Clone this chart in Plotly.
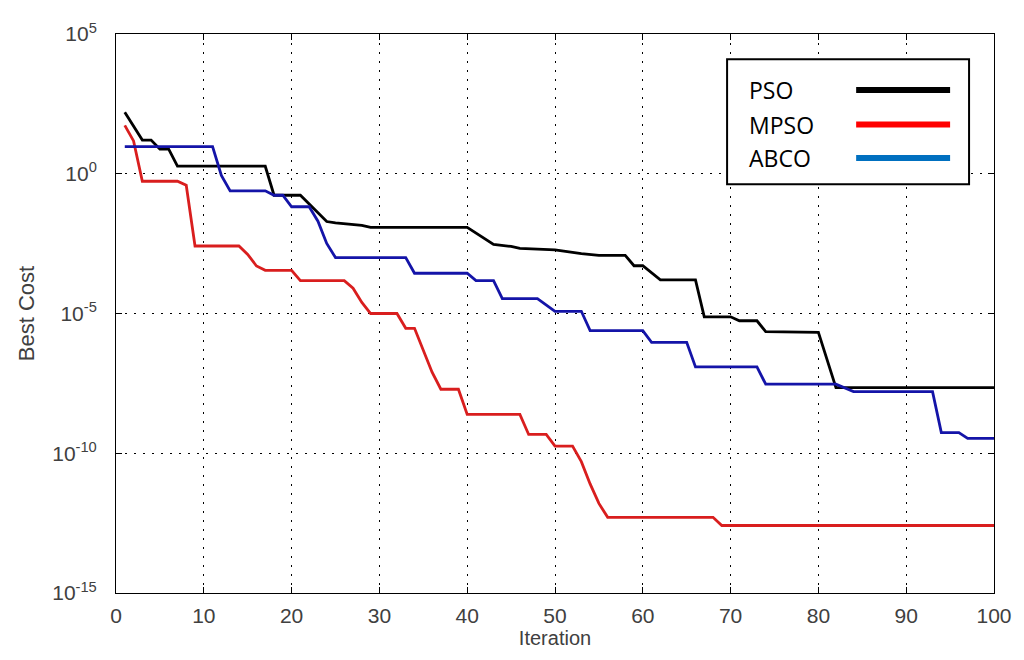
import plotly.graph_objects as go

# PSO (black)
pso_x = [1, 3, 4, 5, 6, 7, 17, 18, 21, 24, 25, 28, 29, 40, 43, 45, 46, 50, 53, 55, 58, 59, 60, 62, 66, 67, 70, 71, 73, 74, 80, 82, 100]
pso_y = [1.6e2, 16, 16, 7.6, 7.6, 1.86, 1.86, 0.17, 0.17, 1.95e-2, 1.74e-2, 1.41e-2, 1.2e-2, 1.2e-2, 2.95e-3,
         2.5e-3, 2.14e-3, 1.9e-3, 1.38e-3, 1.2e-3, 1.2e-3, 5.1e-4, 5.1e-4, 1.6e-4, 1.6e-4, 7.6e-6, 7.6e-6,
         5.5e-6, 5.5e-6, 2.24e-6, 2.1e-6, 2.24e-8, 2.24e-8]

# MPSO (red)
mpso_x = [1, 2, 3, 7, 8, 9, 14, 15, 16, 17, 20, 21, 26, 27, 28, 29, 32, 33, 34, 35, 36, 37, 39, 40, 46, 47,
          49, 50, 52, 53, 54, 55, 56, 68, 69, 100]
mpso_y = [54, 15, 0.54, 0.54, 0.39, 2.6e-3, 2.6e-3, 1.3e-3, 5e-4, 3.5e-4, 3.5e-4, 1.5e-4, 1.5e-4, 8e-5, 2.5e-5,
          1e-5, 1e-5, 2.95e-6, 2.95e-6, 5e-7, 7.9e-8, 1.95e-8, 1.95e-8, 2.45e-9, 2.45e-9, 4.7e-10, 4.7e-10,
          1.8e-10, 1.8e-10, 5e-11, 8e-12, 1.6e-12, 5.1e-13, 5.1e-13, 2.6e-13, 2.6e-13]

# ABCO (blue)
abco_x = [1, 11, 12, 13, 17, 18, 19, 20, 22, 23, 24, 25, 33, 34, 40, 41, 43, 44, 48, 49, 50, 53, 54, 60, 61,
          65, 66, 73, 74, 82, 84, 93, 94, 96, 97, 100]
abco_y = [9.3, 9.3, 0.87, 0.245, 0.245, 0.17, 0.17, 0.066, 0.066, 0.02, 3.2e-3, 1e-3, 1e-3, 2.75e-4, 2.75e-4,
          1.5e-4, 1.5e-4, 3.4e-5, 3.4e-5, 2e-5, 1.2e-5, 1.2e-5, 2.45e-6, 2.45e-6, 9.3e-7, 9.3e-7, 1.23e-7,
          1.23e-7, 2.95e-8, 2.95e-8, 1.6e-8, 1.6e-8, 5.5e-10, 5.5e-10, 3.4e-10, 3.4e-10]

series_names = ["PSO", "MPSO", "ABCO"]
line_colors = ["#000000", "#d91e1e", "#1414a8"]
legend_colors = ["#000000", "#ff0000", "#0070c0"]

x_ticks = list(range(0, 101, 10))
y_tickvals = [1e5, 1e0, 1e-5, 1e-10, 1e-15]
y_ticktext = ["10<sup>5</sup>", "10<sup>0</sup>", "10<sup>-5</sup>", "10<sup>-10</sup>", "10<sup>-15</sup>"]

fig = go.Figure()
for xs, ys, name, col in [(pso_x, pso_y, series_names[0], line_colors[0]),
                          (mpso_x, mpso_y, series_names[1], line_colors[1]),
                          (abco_x, abco_y, series_names[2], line_colors[2])]:
    fig.add_trace(go.Scatter(x=xs, y=ys, mode="lines", name=name,
                             line=dict(color=col, width=2.8), showlegend=False))

tick_font = dict(family="Liberation Sans, Arial, sans-serif", size=21, color="#404040")
xtitle_font = dict(family="Liberation Sans, Arial, sans-serif", size=20, color="#404040")
ytitle_font = dict(family="Liberation Sans, Arial, sans-serif", size=22, color="#404040")

fig.update_layout(
    width=1016, height=652,
    margin=dict(l=108, r=29, t=19, b=67),
    paper_bgcolor="white", plot_bgcolor="white",
    xaxis=dict(range=[0, 100], tickvals=x_ticks, showgrid=True, gridcolor="#000000", griddash="2px,7px",
               gridwidth=1, showline=True, linecolor="#000000", linewidth=1, mirror="ticks",
               ticks="inside", ticklen=6, tickcolor="#000000", tickfont=tick_font, zeroline=False,
               ticklabelstandoff=4,
               title=dict(text="Iteration", font=xtitle_font, standoff=2)),
    yaxis=dict(type="log", range=[-15, 5], tickvals=y_tickvals, ticktext=y_ticktext, showgrid=True,
               gridcolor="#000000", griddash="2px,7px", gridwidth=1, showline=True, linecolor="#000000",
               linewidth=1, mirror="ticks", ticks="inside", ticklen=6, tickcolor="#000000",
               tickfont=tick_font, zeroline=False, ticklabelstandoff=14,
               title=dict(text="Best Cost", font=ytitle_font, standoff=11)),
)

# custom legend box (text on the left, line sample on the right)
x0, x1 = 0.696, 0.9716
y0, y1 = 0.731, 0.955
fig.add_shape(type="rect", xref="paper", yref="paper", x0=x0, x1=x1, y0=y0, y1=y1,
              line=dict(color="#000000", width=2), fillcolor="white", layer="above")
row_y = [0.900, 0.838, 0.778]
for name, col, ry in zip(series_names, legend_colors, row_y):
    fig.add_annotation(xref="paper", yref="paper", x=0.7185, y=ry, text=name, showarrow=False,
                       xanchor="left", yanchor="middle",
                       font=dict(family="Open Sans, Noto Sans, sans-serif", size=23, color="#000000"))
    fig.add_shape(type="line", xref="paper", yref="paper", x0=0.843, x1=0.950, y0=ry, y1=ry,
                  line=dict(color=col, width=6), layer="above")

fig.write_html("out.html")
